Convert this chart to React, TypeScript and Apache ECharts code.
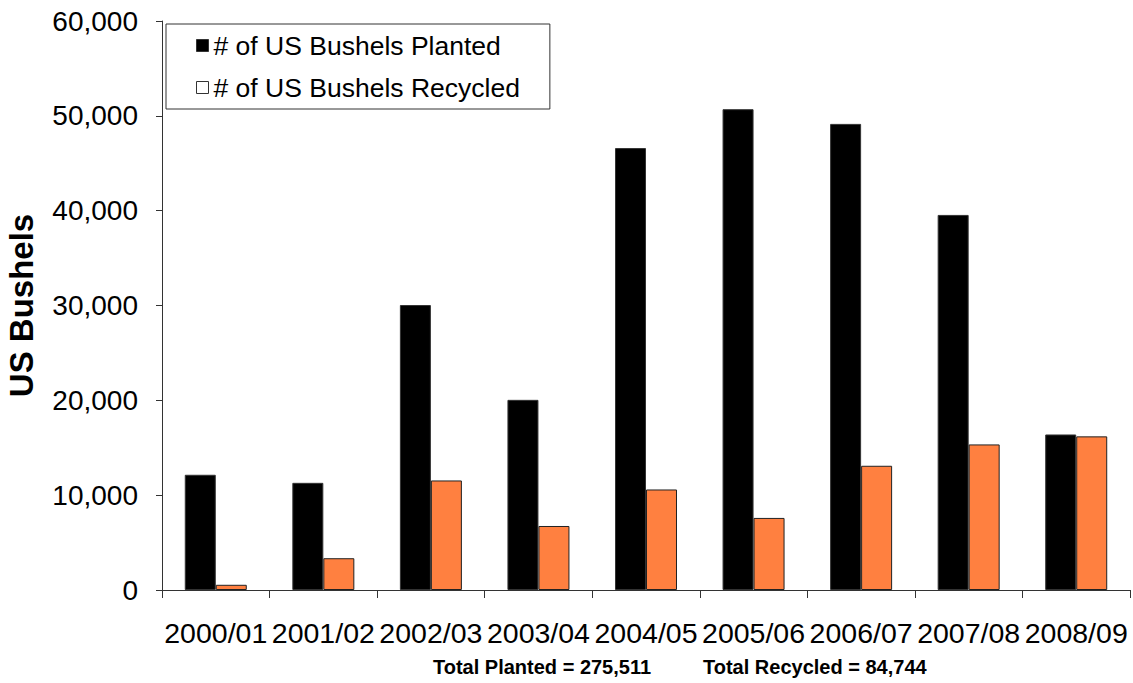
import React, { useEffect, useRef } from "react";
import * as echarts from "echarts";

const categories = ["2000/01", "2001/02", "2002/03", "2003/04", "2004/05", "2005/06", "2006/07", "2007/08", "2008/09"];
const planted = [12150, 11300, 30050, 20050, 46600, 50700, 49150, 39550, 16400];
const recycled = [550, 3350, 11550, 6750, 10600, 7600, 13100, 15350, 16200];
const yTicks = { min: 0, max: 60000, interval: 10000 };
const plantedName = "# of US Bushels Planted";
const recycledName = "# of US Bushels Recycled";
const totalPlantedText = "Total Planted = 275,511";
const totalRecycledText = "Total Recycled = 84,744";
const yAxisTitle = "US Bushels";

const FONT = "'Liberation Sans', Arial, sans-serif";

export default function App() {
  const ref = useRef<HTMLDivElement>(null);
  useEffect(() => {
    if (!ref.current) return;
    const chart = echarts.init(ref.current, undefined, { renderer: "svg" });
    chart.setOption({
      animation: false,
      backgroundColor: "#ffffff",
      textStyle: { fontFamily: FONT },
      grid: { left: 162, top: 21, right: 3, bottom: 93, containLabel: false, outerBoundsMode: "none" },
      legend: {
        orient: "vertical",
        left: 166,
        top: 24,
        backgroundColor: "#ffffff",
        borderColor: "#333333",
        borderWidth: 1,
        padding: [8, 30, 8, 30],
        itemGap: 15,
        itemWidth: 12,
        itemHeight: 12,
        icon: "rect",
        textStyle: { fontFamily: FONT, fontSize: 26.5, color: "#000", padding: [0, 0, 0, 0] },
        data: [
          { name: plantedName, itemStyle: { color: "#000000", borderColor: "#333", borderWidth: 1 } },
          { name: recycledName, itemStyle: { color: "#ffffff", borderColor: "#333", borderWidth: 1 } },
        ],
      },
      xAxis: {
        type: "category",
        data: categories,
        axisLine: { lineStyle: { color: "#333333", width: 1 } },
        axisTick: { show: true, length: 8, inside: false, lineStyle: { color: "#333333" } },
        axisLabel: { interval: 0, fontSize: 28.5, color: "#000", margin: 28, fontFamily: FONT },
        splitLine: { show: false },
      },
      yAxis: {
        type: "value",
        min: yTicks.min,
        max: yTicks.max,
        interval: yTicks.interval,
        name: yAxisTitle,
        nameLocation: "middle",
        nameRotate: 90,
        nameGap: 124,
        nameTextStyle: { fontSize: 33, fontWeight: "bold", color: "#000", fontFamily: FONT },
        axisLine: { show: true, lineStyle: { color: "#333333", width: 1 } },
        axisTick: { show: true, length: 6, inside: false, lineStyle: { color: "#333333" } },
        axisLabel: {
          fontSize: 28,
          color: "#000",
          margin: 24,
          fontFamily: FONT,
          formatter: (v: number) => v.toLocaleString("en-US"),
        },
        splitLine: { show: false },
      },
      series: [
        {
          name: plantedName,
          type: "bar",
          data: planted,
          barWidth: 31,
          barGap: "0%",
          itemStyle: { color: "#000000", borderColor: "#333", borderWidth: 1 },
        },
        {
          name: recycledName,
          type: "bar",
          data: recycled,
          barWidth: 31,
          barGap: "0%",
          itemStyle: { color: "#FF8040", borderColor: "#222", borderWidth: 1 },
        },
      ],
      graphic: [
        {
          type: "text",
          left: 433,
          top: 657,
          style: { text: totalPlantedText, font: `bold 20px ${FONT}`, fill: "#000" },
        },
        {
          type: "text",
          left: 703,
          top: 657,
          style: { text: totalRecycledText, font: `bold 20px ${FONT}`, fill: "#000" },
        },
      ],
    });
    return () => chart.dispose();
  }, []);
  return (
    <div
      ref={ref}
      style={{ position: "absolute", left: 0, top: 0, width: 1133, height: 683 }}
    />
  );
}
